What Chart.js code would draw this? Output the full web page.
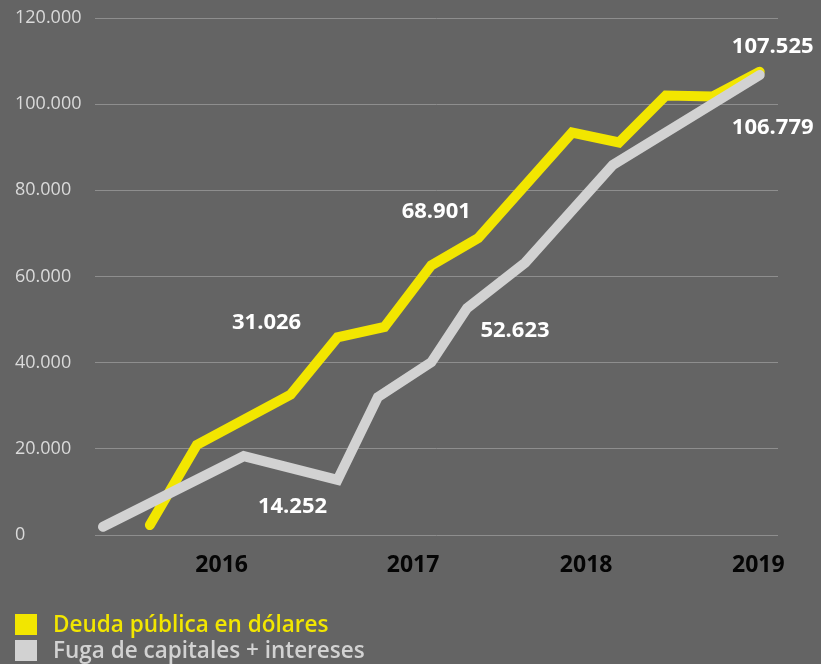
<!DOCTYPE html>
<html>
<head>
<meta charset="utf-8">
<script src="https://cdn.jsdelivr.net/npm/chart.js@4.4.1/dist/chart.umd.min.js"></script>
<style>
  html, body { margin: 0; padding: 0; background: #646464; }
  #wrap { position: relative; width: 821px; height: 664px; overflow: hidden; }
  #legend { position: absolute; left: 15px; top: 611px; font-family: "Open Sans", sans-serif; font-size: 22.5px; font-weight: 600; }
  .item { display: flex; align-items: center; height: 26px; line-height: 26px; }
  .box { width: 22px; height: 21px; margin-right: 16px; }
</style>
</head>
<body>
<div id="wrap">
  <canvas id="chart"></canvas>
  <div id="legend"></div>
</div>
<script>
// Data (x = periods, quarters from the first gray point)
const yearLabels = ['2016', '2017', '2018', '2019'];
const yearTickPos = [2.53, 6.61, 10.3, 13.97];

const deudaX = [1, 2, 4, 5, 6, 7, 8, 10, 11, 12, 13, 14];
const deudaY = [2300, 20900, 32600, 45900, 48300, 62600, 68901, 93400, 91100, 102000, 101800, 107525];

const fugaX = [0, 3, 5, 5.86, 7, 7.76, 9, 10.87, 14];
const fugaY = [1900, 18300, 12800, 32000, 40100, 52623, 63200, 85900, 106779];

const yTicks = [0, 20000, 40000, 60000, 80000, 100000, 120000];

// Value labels: which series, which point, offset in px
const valueLabels = [
    { text: '31.026', ds: 0, idx: 2, dx: -24, dy: -72 },
    { text: '68.901', ds: 0, idx: 6, dx: -42, dy: -26 },
    { text: '107.525', ds: 0, idx: 11, dx: 13, dy: -25 },
    { text: '14.252', ds: 1, idx: 2, dx: -45, dy: 27 },
    { text: '52.623', ds: 1, idx: 5, dx: 48, dy: 22 },
    { text: '106.779', ds: 1, idx: 8, dx: 13, dy: 53 }
];

const YELLOW = '#f2e600';
const GRAY = '#d2d2d2';

function toPoints(xs, ys) {
    return xs.map((x, i) => ({ x: x, y: ys[i] }));
}

function fmt(v) {
    return String(v).replace(/\B(?=(\d{3})+(?!\d))/g, '.');
}

// draws the white numbers next to the lines
const valueLabelPlugin = {
    id: 'valueLabels',
    afterDatasetsDraw(chart) {
        const ctx = chart.ctx;
        ctx.save();
        ctx.fillStyle = '#ffffff';
        ctx.font = 'bold 22px "Open Sans"';
        ctx.textAlign = 'center';
        ctx.textBaseline = 'middle';
        valueLabels.forEach(l => {
            const pt = chart.getDatasetMeta(l.ds).data[l.idx];
            ctx.fillText(l.text, pt.x + l.dx, pt.y + l.dy);
        });
        ctx.restore();
    }
};

const chart = new Chart(document.getElementById('chart'), {
    type: 'line',
    data: {
        datasets: [{
            label: 'Deuda pública en dólares',
            data: toPoints(deudaX, deudaY),
            borderColor: YELLOW,
            backgroundColor: YELLOW,
            borderWidth: 10,
            borderCapStyle: 'round',
            pointRadius: 0,
            tension: 0,
            order: 2
        }, {
            label: 'Fuga de capitales + intereses',
            data: toPoints(fugaX, fugaY),
            borderColor: GRAY,
            backgroundColor: GRAY,
            borderWidth: 10,
            borderCapStyle: 'round',
            pointRadius: 0,
            tension: 0,
            order: 1
        }]
    },
    options: {
        responsive: true,
        maintainAspectRatio: false,
        animation: false,
        layout: { padding: { left: 15, top: 18, right: 43, bottom: 69 } },
        plugins: {
            legend: { display: false },
            tooltip: { enabled: false }
        },
        scales: {
            x: {
                type: 'linear',
                min: -0.17,
                max: 14.39,
                grid: { display: false },
                border: { display: false },
                afterBuildTicks: scale => {
                    scale.ticks = yearTickPos.map(v => ({ value: v }));
                },
                afterFit: scale => { scale.height = 60; },
                ticks: {
                    autoSkip: false,
                    maxRotation: 0,
                    padding: 9,
                    color: '#050505',
                    font: { family: 'Open Sans', size: 23, weight: 'bold' },
                    callback: (value, index) => yearLabels[index]
                }
            },
            y: {
                min: 0,
                max: 120000,
                grid: { color: '#8e8e8e', lineWidth: 1, drawTicks: false },
                border: { display: false },
                afterBuildTicks: scale => {
                    scale.ticks = yTicks.map(v => ({ value: v }));
                },
                afterFit: scale => { scale.width = 80; },
                ticks: {
                    crossAlign: 'far',
                    color: '#dadada',
                    font: { family: 'Open Sans', size: 18 },
                    callback: v => fmt(v)
                }
            }
        }
    },
    plugins: [valueLabelPlugin]
});

// legend below the chart
const legend = document.getElementById('legend');
chart.data.datasets.forEach(ds => {
    const item = document.createElement('div');
    item.className = 'item';
    item.innerHTML = `<div class="box" style="background:${ds.borderColor}"></div>` +
        `<span style="color:${ds.borderColor}">${ds.label}</span>`;
    legend.appendChild(item);
});
</script>
</body>
</html>
